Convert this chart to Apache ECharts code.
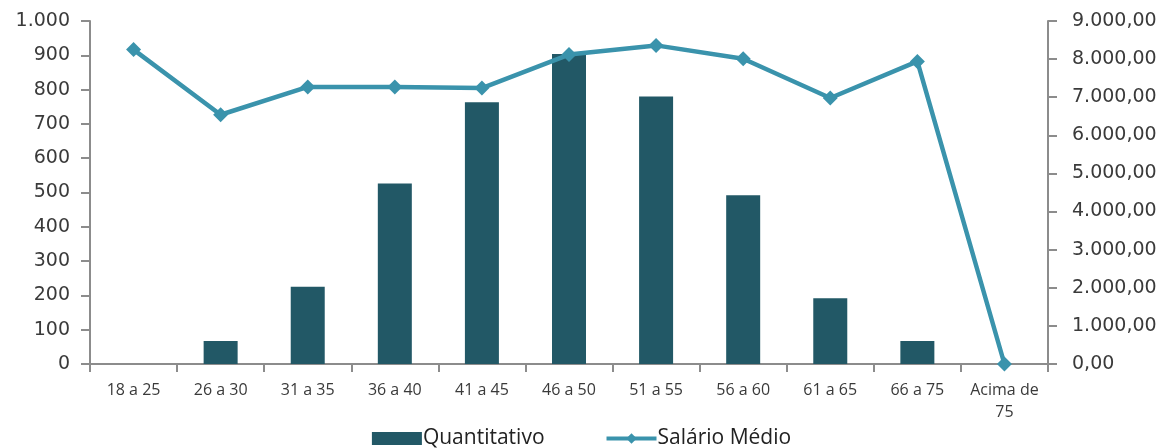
<!DOCTYPE html>
<html>
<head>
<meta charset="utf-8">
<script src="https://cdn.jsdelivr.net/npm/echarts@6/dist/echarts.min.js"></script>
<style>
  html, body { margin: 0; padding: 0; background: #fff; }
  #chart { width: 1163px; height: 448px; }
</style>
</head>
<body>
<div id="chart"></div>
<script>
// faixas etárias
const faixas = ['18 a 25', '26 a 30', '31 a 35', '36 a 40', '41 a 45', '46 a 50',
  '51 a 55', '56 a 60', '61 a 65', '66 a 75', 'Acima de\n75'];

// quantidade de pessoas por faixa (eixo esquerdo)
const quantitativo = [0, 67, 225, 526, 763, 904, 780, 492, 192, 67, 0];

// salário médio por faixa (eixo direito)
const salarioMedio = [8250, 6540, 7270, 7270, 7240, 8120, 8360, 8010, 6980, 7940, 0];

// formata número no padrão brasileiro
function fmtBR(v, casas) {
  const partes = v.toFixed(casas).split('.');
  partes[0] = partes[0].replace(/\B(?=(\d{3})+(?!\d))/g, '.');
  return partes.join(',');
}

const myChart = echarts.init(document.getElementById('chart'));

const corEixo = '#8c8c8c';
const corTexto = '#3a3a3a';

const option = {
  backgroundColor: '#fff',
  animation: false,
  grid: { left: 90, right: 115, top: 21, bottom: 84 },
  legend: {
    top: 423,
    left: 'center',
    itemWidth: 50,
    itemHeight: 13,
    itemGap: 60,
    textStyle: { fontFamily: 'Open Sans', fontSize: 21, color: '#222', padding: [0, 0, 0, -4] },
    data: [
      { name: 'Quantitativo', icon: 'rect' },
      { name: 'Salário Médio', lineStyle: { width: 4 } }
    ]
  },
  xAxis: {
    type: 'category',
    data: faixas,
    boundaryGap: true,
    axisLine: { lineStyle: { color: corEixo, width: 2 } },
    axisTick: { show: true, length: 8, lineStyle: { color: corEixo, width: 2 } },
    axisLabel: {
      margin: 15,
      fontFamily: 'Open Sans',
      fontSize: 16,
      color: corTexto,
      lineHeight: 22,
      interval: 0
    }
  },
  yAxis: [
    {
      type: 'value',
      min: 0,
      max: 1000,
      interval: 100,
      splitLine: { show: false },
      axisLine: { show: true, lineStyle: { color: corEixo, width: 2 } },
      axisTick: { show: true, length: 9, lineStyle: { color: corEixo, width: 2 } },
      axisLabel: {
        margin: 20,
        fontFamily: 'DejaVu Sans',
        fontSize: 19,
        color: corTexto,
        formatter: v => fmtBR(v, 0)
      }
    },
    {
      type: 'value',
      min: 0,
      max: 9000,
      interval: 1000,
      position: 'right',
      splitLine: { show: false },
      axisLine: { show: true, lineStyle: { color: corEixo, width: 2 } },
      axisTick: { show: true, length: 9, lineStyle: { color: corEixo, width: 2 } },
      axisLabel: {
        margin: 24,
        fontFamily: 'DejaVu Sans',
        fontSize: 19,
        color: corTexto,
        formatter: v => fmtBR(v, 2)
      }
    }
  ],
  series: [
    {
      name: 'Quantitativo',
      type: 'bar',
      yAxisIndex: 0,
      data: quantitativo,
      barWidth: 34,
      itemStyle: { color: '#225866' }
    },
    {
      name: 'Salário Médio',
      type: 'line',
      yAxisIndex: 1,
      data: salarioMedio,
      symbol: 'diamond',
      symbolSize: 15,
      lineStyle: { color: '#3a93ac', width: 4.5 },
      itemStyle: { color: '#3a93ac' },
      z: 5
    }
  ]
};

myChart.setOption(option);

window.addEventListener('resize', function () {
  myChart.resize();
});
</script>
</body>
</html>
